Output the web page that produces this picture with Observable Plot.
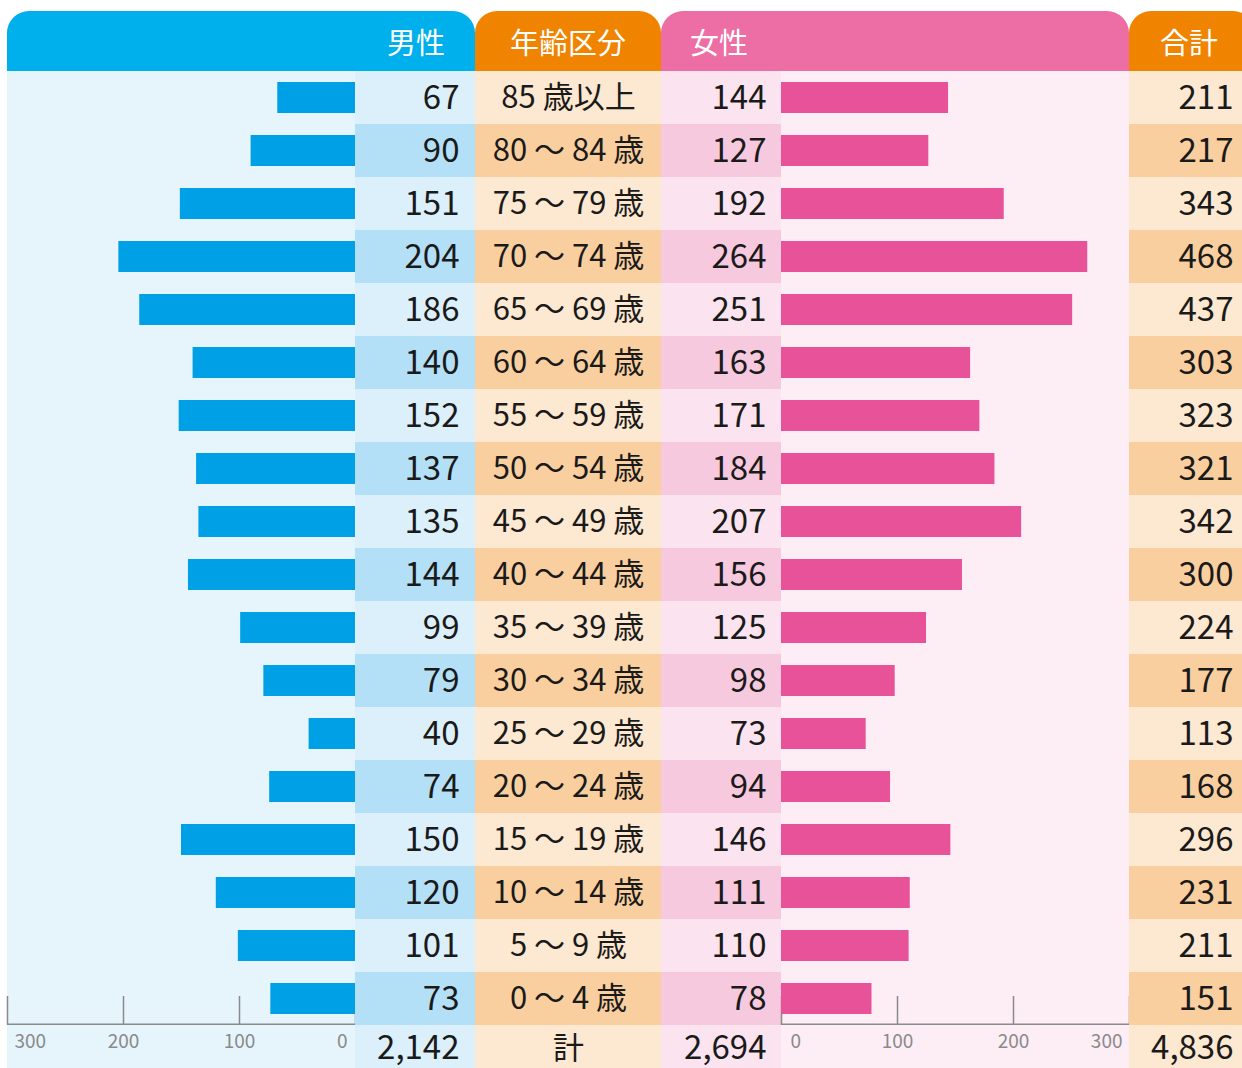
<!DOCTYPE html>
<html><head><meta charset="utf-8">
<script src="https://cdn.jsdelivr.net/npm/d3@7"></script>
<script src="https://cdn.jsdelivr.net/npm/@observablehq/plot@0.6"></script>
<style>
html,body{margin:0;padding:0;background:#fff;overflow:hidden;}
body{font-family:"Noto Sans CJK JP","Noto Sans",sans-serif;}
#wrap{position:absolute;left:7px;top:11px;}
.hdr{display:flex;height:60px;}
.hdr div{color:#fff;font-size:29px;line-height:60px;box-sizing:border-box;border-radius:22px 22px 0 0;white-space:nowrap;flex:none;}
.cols{display:flex;align-items:flex-start;}
.cols svg{display:block;overflow:visible;flex:none;}
</style></head><body>
<div id="wrap">
  <div class="hdr">
    <div id="hMale" style="width:468px;background:#00b0ec;text-align:right;padding-right:30px;"></div>
    <div id="hAge" style="width:186px;background:#f08300;text-align:center;"></div>
    <div id="hFemale" style="width:468px;background:#ec6ea4;text-align:left;padding-left:29px;"></div>
    <div id="hTotal" style="width:126px;background:#f08300;text-align:right;padding-right:37px;"></div>
  </div>
  <div class="cols" id="cols"></div>
</div>
<script>
// ---- data ----
const headers = ["男性", "年齢区分", "女性", "合計"];
const ages = ["85 歳以上", "80 ～ 84 歳", "75 ～ 79 歳", "70 ～ 74 歳", "65 ～ 69 歳", "60 ～ 64 歳",
  "55 ～ 59 歳", "50 ～ 54 歳", "45 ～ 49 歳", "40 ～ 44 歳", "35 ～ 39 歳", "30 ～ 34 歳",
  "25 ～ 29 歳", "20 ～ 24 歳", "15 ～ 19 歳", "10 ～ 14 歳", "5 ～ 9 歳", "0 ～ 4 歳"];
const male = [67, 90, 151, 204, 186, 140, 152, 137, 135, 144, 99, 79, 40, 74, 150, 120, 101, 73];
const female = [144, 127, 192, 264, 251, 163, 171, 184, 207, 156, 125, 98, 73, 94, 146, 111, 110, 78];
const total = [211, 217, 343, 468, 437, 303, 323, 321, 342, 300, 224, 177, 113, 168, 296, 231, 211, 151];
const totalLabel = "計";
const axisTicks = [0, 100, 200, 300];

// ---- build ----
document.getElementById("hMale").textContent = headers[0];
document.getElementById("hAge").textContent = headers[1];
document.getElementById("hFemale").textContent = headers[2];
document.getElementById("hTotal").textContent = headers[3];

const FONT = '"Noto Sans CJK JP","Noto Sans",sans-serif';
const rowH = 53;
const numSize = 33;
const ageSize = 31;
const rows = [...ages, totalLabel];
const data = ages.map((age, i) => ({age, male: male[i], female: female[i], total: total[i]}));
const darkRows = ages.filter((_, i) => i % 2 === 1);
const lastAge = ages[ages.length - 1];
const fmt = d3.format(",");
const sums = {male: fmt(d3.sum(male)), female: fmt(d3.sum(female)), total: fmt(d3.sum(total))};
const ink = "#1a1a1a";
const axisInk = "#8a8a8a";

function column(width, bg, marks, x) {
  const opts = {
    width, height: rows.length * rowH, margin: 0,
    y: {domain: rows, padding: 0, axis: null},
    style: {background: bg, fontFamily: FONT, overflow: "visible"},
    marks
  };
  if (x) opts.x = x;
  return Plot.plot(opts);
}

function numberColumn(width, bg, dark, key, dx) {
  return column(width, bg, [
    Plot.cell(darkRows, {y: d => d, fill: dark}),
    Plot.text(data, {y: "age", text: key, frameAnchor: "right", textAnchor: "end", dx, fontSize: numSize, fill: ink}),
    Plot.text([sums[key]], {y: () => totalLabel, text: d => d, frameAnchor: "right", textAnchor: "end", dx, dy: -4, fontSize: numSize, fill: ink})
  ]);
}

function barColumn(bg, key, color, reverse) {
  const lo = reverse ? 300 : 0, hi = reverse ? 0 : 300;
  return column(348, bg, [
    Plot.tickX(axisTicks, {x: d => d, y: () => lastAge, stroke: axisInk, strokeWidth: 1.5, insetTop: 24}),
    Plot.barX(axisTicks.slice(-1), {x1: 0, x2: d => d, y: () => lastAge, fill: axisInk, insetTop: rowH - 1.5}),
    Plot.barX(data, {x: key, y: "age", fill: color, insetTop: 11, insetBottom: 11}),
    Plot.text(axisTicks.filter(t => t !== 0 && t !== 300), {x: d => d, y: () => totalLabel, text: d => d, fontSize: 19, fill: axisInk, dy: -10}),
    Plot.text([lo], {x: d => d, y: () => totalLabel, text: d => d, fontSize: 19, fill: axisInk, dy: -10, textAnchor: "start", dx: reverse ? 7 : 9}),
    Plot.text([hi], {x: d => d, y: () => totalLabel, text: d => d, fontSize: 19, fill: axisInk, dy: -10, textAnchor: "end", dx: reverse ? -8 : -7})
  ], {domain: [0, 300], reverse, axis: null});
}

const cols = document.getElementById("cols");
cols.append(
  barColumn("#e6f4fc", "male", "#00a0e6", true),
  numberColumn(120, "#dcf0fb", "#b3e0f7", "male", -16),
  column(186, "#fde8d1", [
    Plot.cell(darkRows, {y: d => d, fill: "#facfa0"}),
    Plot.text(data, {y: "age", text: "age", fontSize: ageSize, fill: ink}),
    Plot.text([totalLabel], {y: d => d, text: d => d, dy: -3, fontSize: ageSize, fill: ink})
  ]),
  numberColumn(120, "#fbe4ef", "#f7c9de", "female", -15),
  barColumn("#fdedf4", "female", "#e85298", false),
  numberColumn(113, "#fde8d1", "#facfa0", "total", -9)
);
</script>
</body></html>
